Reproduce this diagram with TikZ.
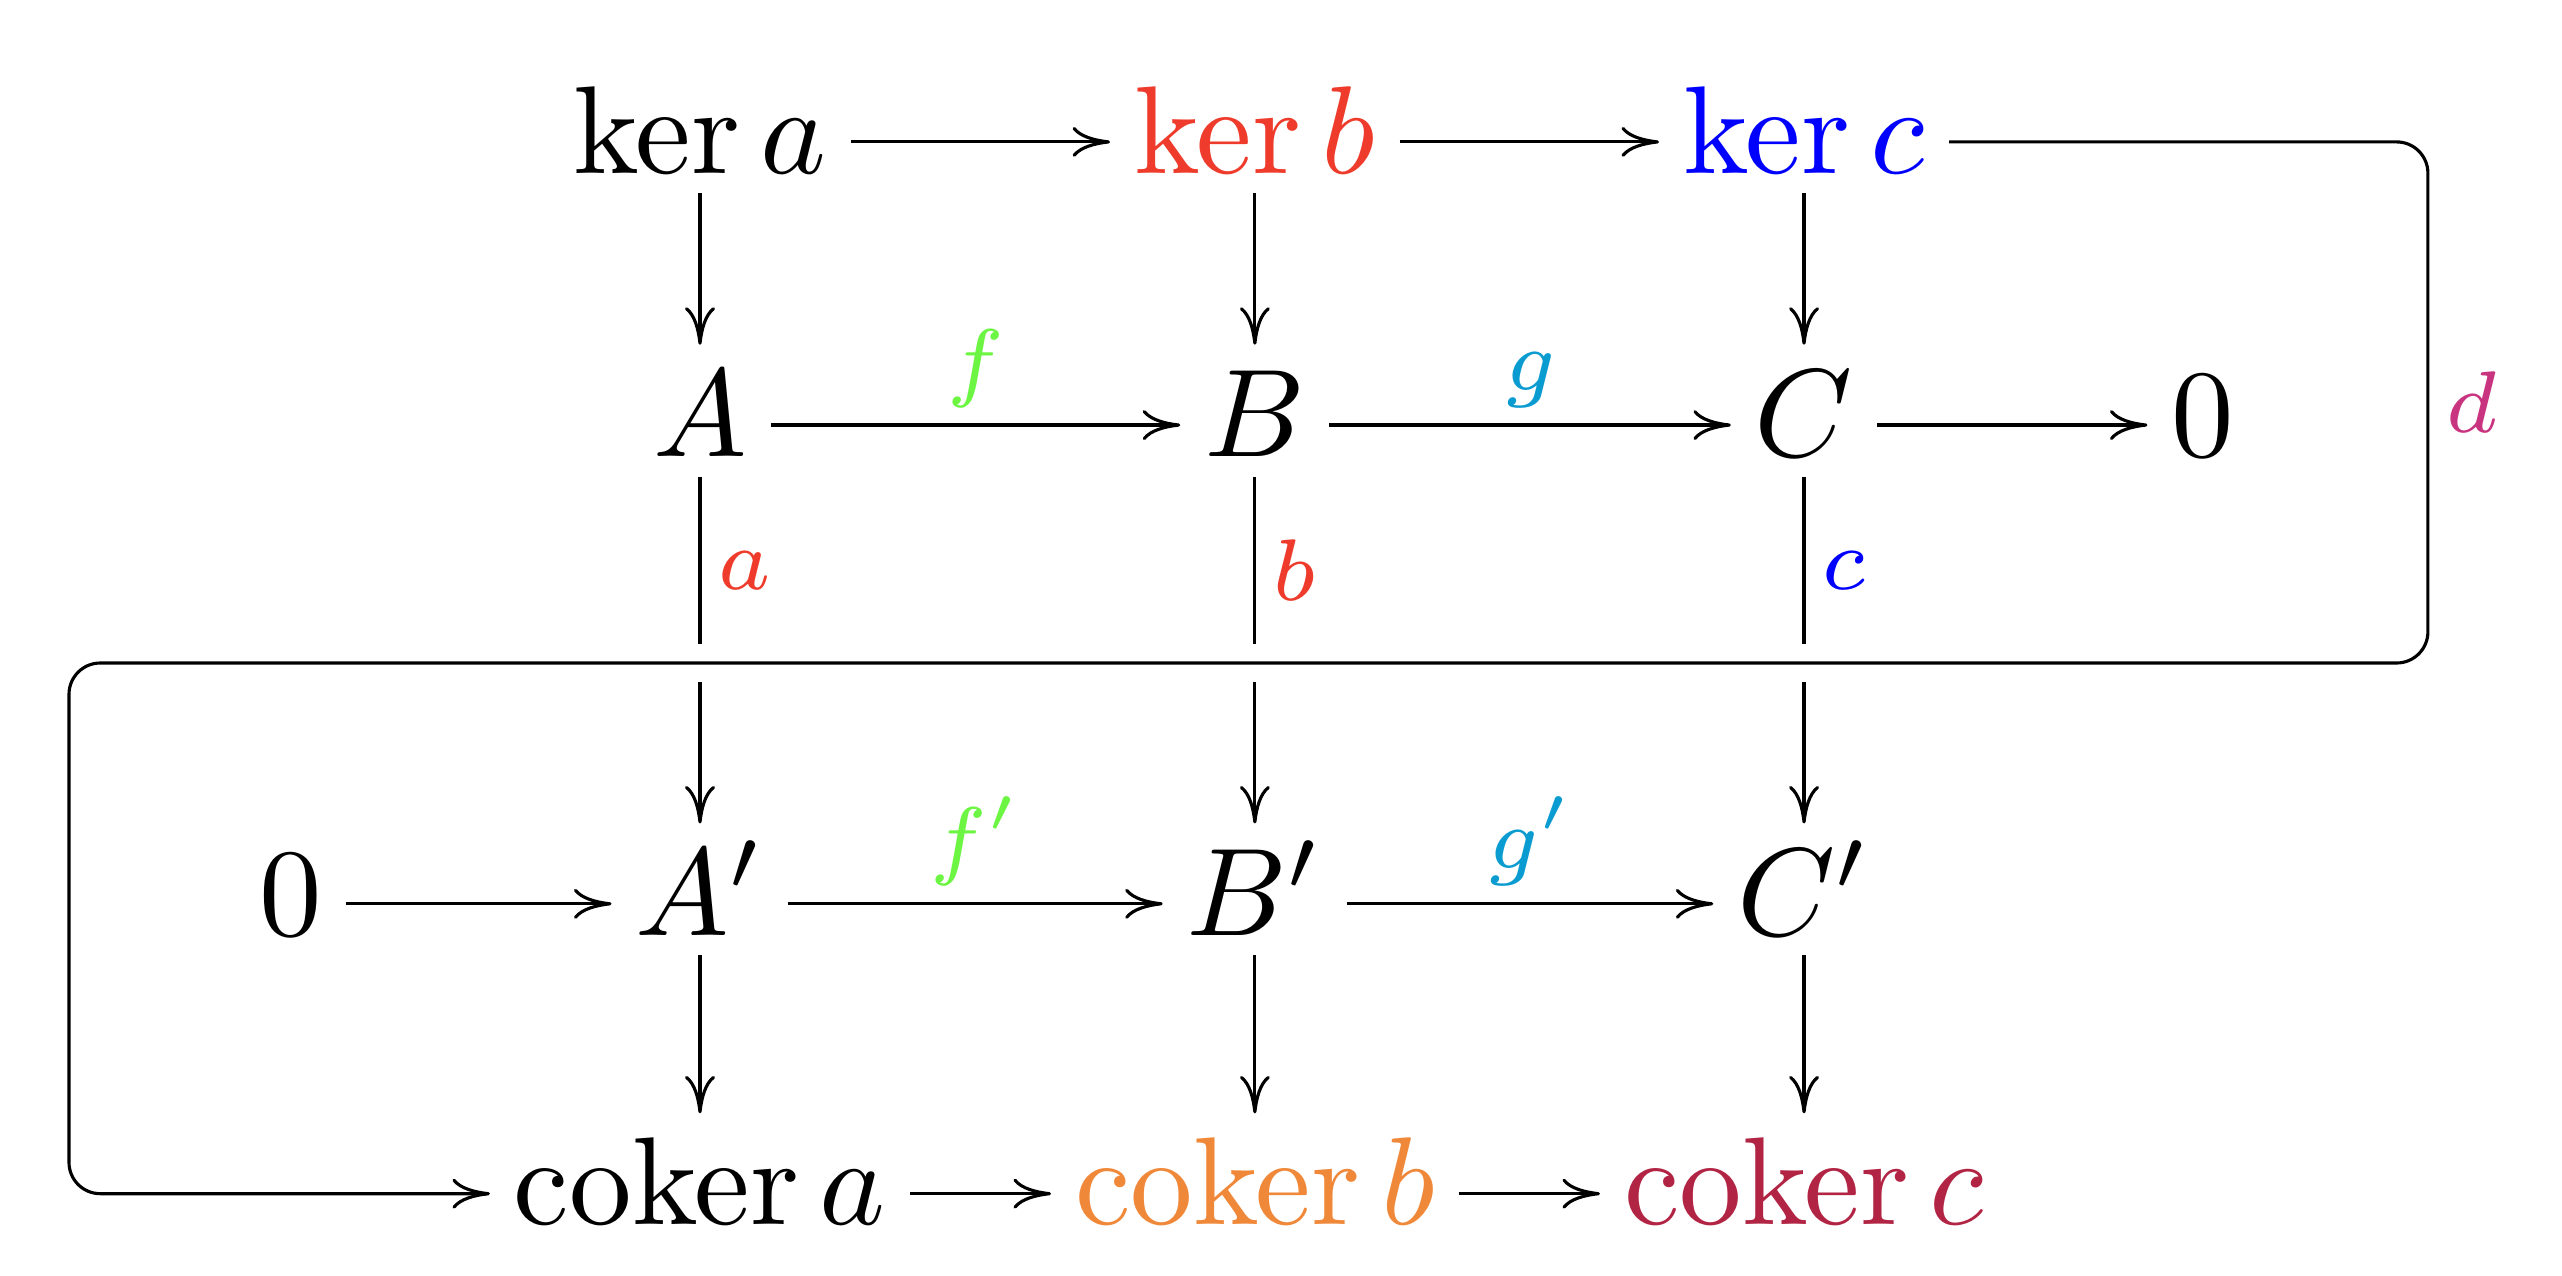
\documentclass[tikz,border=0pt]{standalone}
\usepackage{amsmath}
\usetikzlibrary{arrows.meta}
\definecolor{kred}{HTML}{EE3B2B}
\definecolor{kblue}{HTML}{0000FF}
\definecolor{fgreen}{HTML}{6CF542}
\definecolor{gcyan}{HTML}{0A9BD0}
\definecolor{corange}{HTML}{F0883A}
\definecolor{ccrimson}{HTML}{B22444}
\definecolor{dmagenta}{HTML}{C8347F}
\begin{document}
\begin{tikzpicture}[line width=0.25pt,>={Computer Modern Rightarrow[length=3pt,width=2.4pt]},->]
                \tikzstyle{obj}=[inner xsep=1.8pt,inner ysep=0.5pt,text height=6pt,text depth=1pt]
                \tikzstyle{lbl}=[inner sep=1.3pt]
                \tikzstyle{vert}=[shorten >=2.3pt]
                \useasboundingbox (0,0) rectangle (7.203,3.587);

                \foreach \name/\x/\txt in {ka/1.968/{\ker a}, kb/3.528/{\color{kred}\ker b}, kc/5.072/{\color{kblue}\ker c}}
                        \node[obj] (\name) at (\x,3.188) {$\txt$};
                \foreach \name/\x/\txt in {A/1.968/A, B/3.528/B, C/5.072/C, zr/6.193/0}
                        \node[obj] (\name) at (\x,2.392) {$\txt$};
                \foreach \name/\x/\txt in {zl/0.818/0, Ap/1.968/A', Bp/3.528/B', Cp/5.072/C'}
                        \node[obj] (\name) at (\x,1.046) {$\txt$};
                \foreach \name/\x/\txt in {cka/1.968/{\operatorname{coker} a}, ckb/3.528/{\color{corange}\operatorname{coker} b}, ckc/5.072/{\color{ccrimson}\operatorname{coker} c}}
                        \node[obj] (\name) at (\x,0.231) {$\txt$};

                    \foreach \from/\to in {ka/kb, kb/kc, C/zr, zl/Ap, cka/ckb, ckb/ckc}
                        \draw (\from) -- (\to);
                    \draw (A) -- node[lbl,above,text=fgreen] {$\scriptstyle f$} (B);
                    \draw (B) -- node[lbl,above,text=gcyan] {$\scriptstyle g$} (C);
                    \draw (Ap) -- node[lbl,above,text=fgreen] {$\scriptstyle f'$} (Bp);
                    \draw (Bp) -- node[lbl,above,text=gcyan] {$\scriptstyle g'$} (Cp);

                    \foreach \from/\to in {ka/A, kb/B, kc/C, Ap/cka, Bp/ckb, Cp/ckc}
                        \draw[vert] (\from) -- (\to);
                    \draw[vert] (A) -- node[lbl,right,pos=0.25,text=kred] {$\scriptstyle a$} (Ap);
                    \draw[vert] (B) -- node[lbl,right,pos=0.25,text=kred] {$\scriptstyle b$} (Bp);
                    \draw[vert] (C) -- node[lbl,right,pos=0.25,text=kblue] {$\scriptstyle c$} (Cp);

                    % the snake
                    \coordinate (snR) at (6.826,1.723);
                    \coordinate (snL) at (0.194,1.723);
                    \draw[rounded corners=2.5pt,preaction={draw=white,line width=3pt,-}] (kc) -- (kc -| snR) -- node[lbl,right,text=dmagenta] {$\scriptstyle d$} (snR) -- (snL) -- (snL |- cka) -- (cka);
            \end{tikzpicture}
\end{document}
